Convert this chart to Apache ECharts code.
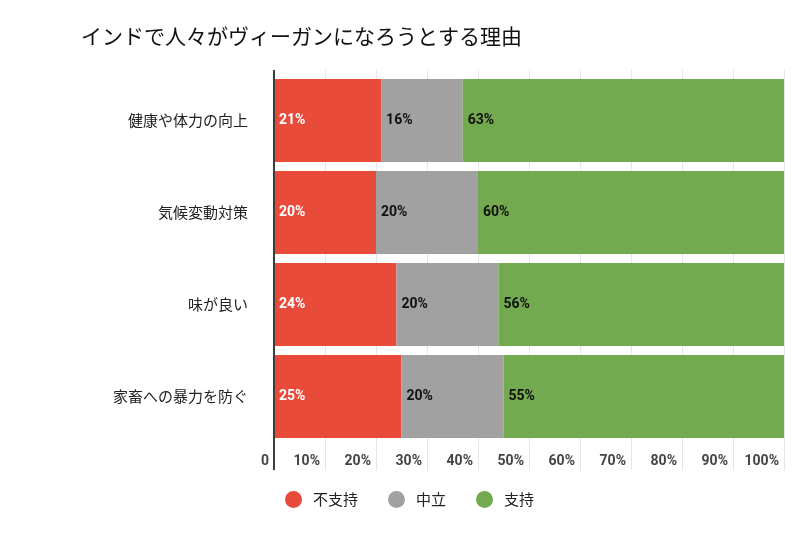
<!DOCTYPE html>
<html>
<head>
<meta charset="utf-8">
<script src="https://cdn.jsdelivr.net/npm/echarts@6/dist/echarts.min.js"></script>
<style>
  html, body { margin: 0; padding: 0; background: #fff; }
  #main { width: 809px; height: 533px; }
</style>
</head>
<body>
<div id="main"></div>
<script>
  var categories = ['健康や体力の向上', '気候変動対策', '味が良い', '家畜への暴力を防ぐ'];
  var seriesNames = ['不支持', '中立', '支持'];
  var against = [21, 20, 24, 25];
  var neutral = [16, 20, 20, 20];
  var support = [63, 60, 56, 55];
  var xTickLabels = ['0', '10%', '20%', '30%', '40%', '50%', '60%', '70%', '80%', '90%', '100%'];

  var colors = ['#e94b3b', '#a1a1a1', '#73a94f'];
  var gridColor = '#e6e6e6';

  var myChart = echarts.init(document.getElementById('main'));

  function makeSeries(name, data, color, labelColor) {
    return {
      name: name,
      type: 'bar',
      stack: 'total',
      barCategoryGap: '10%',
      itemStyle: { color: color },
      label: {
        show: true,
        position: 'insideLeft',
        distance: 5,
        formatter: '{c}%',
        color: labelColor,
        fontFamily: 'Roboto',
        fontWeight: 'bold',
        fontSize: 14
      },
      emphasis: { disabled: true },
      data: data
    };
  }

  var option = {
    animation: false,
    title: {
      text: 'インドで人々がヴィーガンになろうとする理由',
      left: 76,
      top: 21,
      textStyle: {
        fontFamily: 'Noto Sans CJK JP',
        fontWeight: 'normal',
        fontSize: 21,
        color: '#111'
      }
    },
    legend: {
      data: seriesNames,
      left: 280,
      top: 486,
      icon: 'circle',
      itemWidth: 17,
      itemHeight: 17,
      itemGap: 30,
      textStyle: {
        fontFamily: 'Noto Sans CJK JP',
        fontSize: 15,
        color: '#222',
        padding: [0, 0, 0, 6]
      }
    },
    grid: {
      left: 274,
      right: 25,
      top: 74.5,
      bottom: 90.5,
      containLabel: false
    },
    xAxis: [{
      type: 'value',
      min: 0,
      max: 100,
      interval: 10,
      axisLine: { show: false },
      axisTick: { show: true, length: 28, lineStyle: { color: gridColor } },
      splitLine: { show: true, lineStyle: { color: gridColor } },
      axisLabel: {
        margin: 12,
        align: 'right',
        padding: [0, 5, 0, 0],
        color: '#444',
        fontFamily: 'Roboto',
        fontWeight: 'bold',
        fontSize: 14,
        formatter: function (v) { return xTickLabels[Math.round(v / 10)]; }
      }
    }, {
      type: 'value',
      position: 'top',
      min: 0,
      max: 100,
      interval: 10,
      axisLine: { show: false },
      axisTick: { show: true, length: 5, lineStyle: { color: gridColor } },
      splitLine: { show: false },
      axisLabel: { show: false }
    }],
    yAxis: {
      type: 'category',
      inverse: true,
      data: categories,
      axisLine: { show: true, lineStyle: { color: '#3c3c3c', width: 2 } },
      axisTick: { show: false },
      axisLabel: {
        margin: 26,
        color: '#222',
        fontFamily: 'Noto Sans CJK JP',
        fontSize: 15
      }
    },
    graphic: [{
      type: 'line',
      shape: { x1: 274, y1: 70, x2: 274, y2: 470 },
      style: { stroke: '#3c3c3c', lineWidth: 2 },
      z: 100
    }],
    series: [
      makeSeries(seriesNames[0], against, colors[0], '#fff'),
      makeSeries(seriesNames[1], neutral, colors[1], '#111'),
      makeSeries(seriesNames[2], support, colors[2], '#111')
    ]
  };
  myChart.setOption(option);
</script>
</body>
</html>
